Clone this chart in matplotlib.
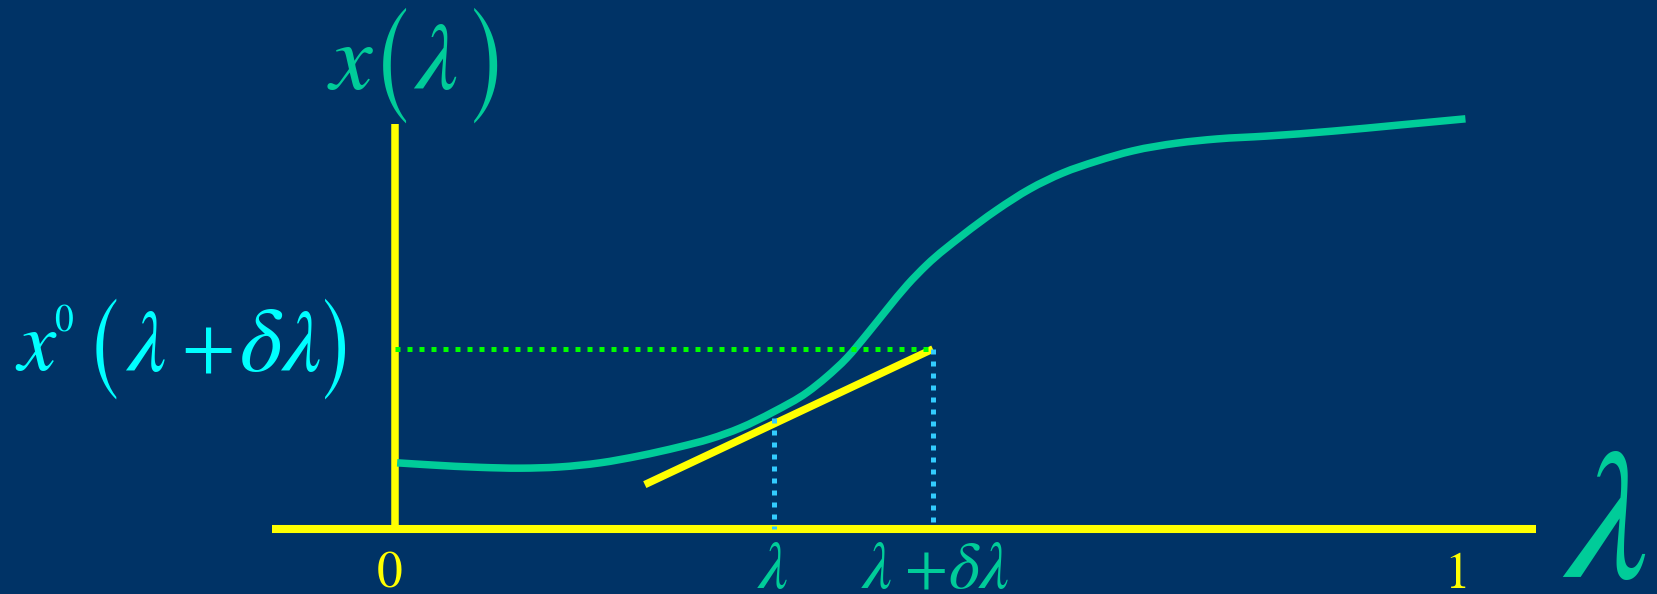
import matplotlib
matplotlib.use("Agg")
import matplotlib.pyplot as plt
from matplotlib.path import Path
from matplotlib.patches import PathPatch

# x(lambda) along the continuation parameter, lambda in [0, 1]
lam = [0.002, 0.033, 0.080, 0.118, 0.155, 0.193, 0.230, 0.268, 0.296, 0.325,
       0.356, 0.388, 0.406, 0.425, 0.444, 0.463, 0.482, 0.500, 0.534, 0.566,
       0.597, 0.628, 0.660, 0.694, 0.736, 0.773, 0.820, 0.882, 0.945, 1.007]
x_lam = [0.161, 0.156, 0.150, 0.148, 0.151, 0.161, 0.178, 0.200, 0.219, 0.246,
         0.285, 0.333, 0.370, 0.416, 0.474, 0.535, 0.594, 0.642, 0.715, 0.776,
         0.827, 0.866, 0.895, 0.920, 0.939, 0.949, 0.956, 0.968, 0.983, 0.998]

# predictor step: tangent at lambda, extended to lambda + d lambda
tan_lam = [0.235, 0.506]
tan_x = [0.108, 0.438]
lam_step = [0.357, 0.506]       # lambda and lambda + d lambda
x_step = [0.270, 0.438]         # tangent value above each of them

axis_lam = [-0.116, 1.073]
axis_top = 0.986

BG = "#003366"
TEAL = "#00CC99"
YELLOW = "#FFFF00"
GREEN = "#00FF00"
BLUE = "#33CCFF"
CYAN = "#00FFFF"
SERIF = "STIXGeneral"
BIG = "STIXSizeOneSym"          # taller, thinner delimiters

W, H = 1657, 594
fig = plt.figure(figsize=(W / 100, H / 100), dpi=100)
fig.patch.set_facecolor(BG)
ax = fig.add_axes([0, 0, 1, 1])
ax.set_facecolor(BG)
ax.set_xlim(-395 / 1063, 1262 / 1063)
ax.set_ylim(-65 / 411, 529 / 411)
ax.axis("off")


def smooth_path(xs, ys):
    # cubic Hermite through the points, slopes from neighbouring chords
    n = len(xs)
    h = [xs[i + 1] - xs[i] for i in range(n - 1)]
    d = [(ys[i + 1] - ys[i]) / h[i] for i in range(n - 1)]
    m = [d[0]]
    for i in range(1, n - 1):
        m.append((d[i - 1] * h[i] + d[i] * h[i - 1]) / (h[i - 1] + h[i]))
    m.append(d[-1])
    verts = [(xs[0], ys[0])]
    codes = [Path.MOVETO]
    for i in range(n - 1):
        t = h[i] / 3
        verts += [(xs[i] + t, ys[i] + t * m[i]),
                  (xs[i + 1] - t, ys[i + 1] - t * m[i + 1]),
                  (xs[i + 1], ys[i + 1])]
        codes += [Path.CURVE4] * 3
    return Path(verts, codes)


# coordinate axes
ax.plot(axis_lam, [0, 0], color=YELLOW, lw=5.8, solid_capstyle="butt", zorder=1)
ax.plot([0, 0], [0, axis_top], color=YELLOW, lw=5.4, solid_capstyle="butt", zorder=1)

# solution path and tangent predictor
ax.add_patch(PathPatch(smooth_path(lam, x_lam), fill=False, edgecolor=TEAL,
                       lw=5.4, capstyle="butt", joinstyle="round", zorder=2))
ax.plot(tan_lam, tan_x, color=YELLOW, lw=5.4, solid_capstyle="butt", zorder=3)

dots = (0, (1, 1.4))
ax.plot([0, lam_step[1]], [x_step[1], x_step[1]], color=GREEN, lw=3.6, ls=dots, zorder=4)
for l, v in zip(lam_step, x_step):
    ax.plot([l, l], [v, 0], color=BLUE, lw=3.6, ls=dots, zorder=4)


def put(s, px, py, size, color, italic=True, family=SERIF):
    # px: left edge, py: baseline, both in pixels from the top-left corner
    fig.text(px / W, 1 - py / H, s, ha="left", va="baseline", fontsize=size,
             color=color, family=family, style="italic" if italic else "normal")


# x(lambda)
put("x", 330, 89, 69, TEAL)
put("(", 370, 108, 68, TEAL, italic=False, family=BIG)
put("λ", 414, 89, 69, TEAL)
put(")", 466, 108, 68, TEAL, italic=False, family=BIG)

# x^0(lambda + d lambda)
put("x", 17, 370, 62, CYAN)
put("0", 54, 332, 27, CYAN, italic=False)
put("(", 85, 386, 59, CYAN, italic=False, family=BIG)
put("λ", 126, 371, 63, CYAN)
put("+", 181, 371, 56, CYAN, italic=False)
put("δ", 240, 371, 66, CYAN)
put("λ", 281, 371, 63, CYAN)
put(")", 318, 386, 59, CYAN, italic=False, family=BIG)

# tick labels on the lambda axis
put("0", 377, 588, 37, YELLOW, italic=False)
put("1", 1444, 588, 37, YELLOW, italic=False)
put("λ", 758, 588, 48, TEAL)
put("λ", 862, 588, 48, TEAL)
put("+", 905, 588, 45, TEAL, italic=False)
put("δ", 948, 588, 48, TEAL)
put("λ", 979, 588, 48, TEAL)

# axis name
put("λ", 1564, 577, 134, TEAL)

fig.savefig("out.png", dpi=100, facecolor=BG)
